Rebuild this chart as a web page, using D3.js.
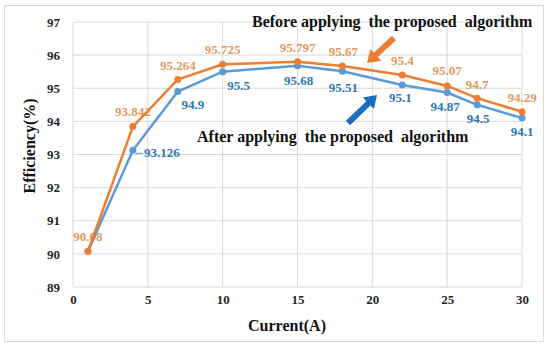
<!DOCTYPE html>
<html>
<head>
<meta charset="utf-8">
<script src="https://cdn.jsdelivr.net/npm/d3@7"></script>
<style>
  body { margin: 0; background: #fff; }
</style>
</head>
<body>
<div id="chart"></div>
<script>
// data
const current = [1, 4, 7, 10, 15, 18, 22, 25, 27, 30];
const before = [90.08, 93.842, 95.264, 95.725, 95.797, 95.67, 95.4, 95.07, 94.7, 94.29];
const after = [90.08, 93.126, 94.9, 95.5, 95.68, 95.51, 95.1, 94.87, 94.5, 94.1];
const xTicks = [0, 5, 10, 15, 20, 25, 30];
const yTicks = [89, 90, 91, 92, 93, 94, 95, 96, 97];

// label offsets (dx, dy) relative to each point
const beforeOff = [[0, -14], [0, -15], [0, -14], [0, -14], [0, -14], [1, -14], [0, -14], [0, -15], [0, -13], [0, -14]];
const afterOff = [[0, 0], [29, 3], [15, 13], [16, 14], [1, 15], [1, 17], [-2, 13], [-2, 14], [1, 14], [0, 14]];

const FONT = "'Liberation Serif', 'Times New Roman', serif";

const W = 550, H = 347;
const margin = {top: 22, right: 28, bottom: 60, left: 73},
    width = W - margin.left - margin.right,
    height = H - margin.top - margin.bottom;

const svg = d3.select("#chart")
  .append("svg")
    .attr("width", W)
    .attr("height", H);

// outer frame
svg.append("rect")
  .attr("x", 4.5).attr("y", 5.5)
  .attr("width", 539).attr("height", 336)
  .attr("fill", "none")
  .attr("stroke", "#d9d9d9");

const g = svg.append("g")
  .attr("transform", "translate(" + margin.left + "," + margin.top + ")");

const x = d3.scaleLinear().domain([0, 30]).range([0, width]);
const y = d3.scaleLinear().domain([89, 97]).range([height, 0]);

// grid
g.selectAll(".hgrid")
  .data(yTicks)
  .enter().append("line")
    .attr("x1", 0).attr("x2", width)
    .attr("y1", d => y(d)).attr("y2", d => y(d))
    .attr("stroke", "#d9d9d9");

g.selectAll(".vgrid")
  .data(xTicks)
  .enter().append("line")
    .attr("x1", d => x(d)).attr("x2", d => x(d))
    .attr("y1", 0).attr("y2", height)
    .attr("stroke", "#d9d9d9");

// axes (no domain / tick marks, only labels)
const yAxis = g.append("g")
  .call(d3.axisLeft(y).tickValues(yTicks).tickSize(0).tickPadding(13));
yAxis.select(".domain").remove();
yAxis.selectAll("text")
  .style("font-size", "13px")
  .style("font-family", FONT)
  .style("font-weight", "bold")
  .attr("fill", "#262626");

const xAxis = g.append("g")
  .attr("transform", "translate(0," + height + ")")
  .call(d3.axisBottom(x).tickValues(xTicks).tickSize(0).tickPadding(8));
xAxis.select(".domain").remove();
xAxis.selectAll("text")
  .style("font-size", "13px")
  .style("font-family", FONT)
  .style("font-weight", "bold")
  .attr("fill", "#262626");

// axis titles
svg.append("text")
  .attr("x", 287).attr("y", 331)
  .attr("text-anchor", "middle")
  .style("font-family", FONT).style("font-weight", "bold")
  .style("font-size", "16px")
  .attr("fill", "#111")
  .text("Current(A)");

svg.append("text")
  .attr("transform", "translate(35,146)rotate(-90)")
  .attr("text-anchor", "middle")
  .style("font-family", FONT).style("font-weight", "bold")
  .style("font-size", "16px")
  .attr("fill", "#111")
  .text("Efficiency(%)");

const series = [
  {vals: after, color: "#5b9bd5", label: "#2e78b0", off: afterOff},
  {vals: before, color: "#ed7d31", label: "#e09a5e", off: beforeOff}
];

// data labels (under the lines)
series.forEach((s, k) => {
  g.selectAll(null)
    .data(current.map((c, i) => [c, s.vals[i], s.off[i]]))
    .enter().append("text")
      .filter((d, i) => !(k === 0 && i === 0))
      .attr("x", d => x(d[0]) + d[2][0])
      .attr("y", d => y(d[1]) + d[2][1] + 4)
      .attr("text-anchor", "middle")
      .style("font-family", FONT).style("font-weight", "bold")
      .style("font-size", "13px")
      .attr("fill", s.label)
      .text(d => d[1]);
});

// lines
const line = d3.line()
  .x(d => x(d[0]))
  .y(d => y(d[1]));

series.forEach(s => {
  const pts = current.map((c, i) => [c, s.vals[i]]);
  g.append("path")
    .datum(pts)
    .attr("fill", "none")
    .attr("stroke", s.color)
    .attr("stroke-width", 2.5)
    .attr("d", line);
  g.selectAll(null)
    .data(pts)
    .enter().append("circle")
      .attr("cx", d => x(d[0]))
      .attr("cy", d => y(d[1]))
      .attr("r", 3.5)
      .attr("fill", s.color);
});

// leader line for 93.126
g.append("line")
  .attr("x1", x(4) + 3).attr("x2", x(4) + 10)
  .attr("y1", y(93.126) + 3).attr("y2", y(93.126) + 3)
  .attr("stroke", "#5b9bd5");

// annotations
svg.append("text")
  .attr("x", 252).attr("y", 27)
  .attr("xml:space", "preserve")
  .style("font-family", FONT).style("font-weight", "bold")
  .style("font-size", "16px")
  .style("white-space", "pre")
  .attr("fill", "#111")
  .text("Before applying  the proposed  algorithm");

svg.append("text")
  .attr("x", 197).attr("y", 142)
  .attr("xml:space", "preserve")
  .style("font-family", FONT).style("font-weight", "bold")
  .style("font-size", "16px")
  .style("white-space", "pre")
  .attr("fill", "#111")
  .text("After applying  the proposed  algorithm");

// block arrows
function arrow(x1, y1, x2, y2, color) {
  const ang = Math.atan2(y2 - y1, x2 - x1) * 180 / Math.PI;
  const len = Math.hypot(x2 - x1, y2 - y1);
  const hl = 12, sw = 3, hw = 8;
  svg.append("path")
    .attr("transform", "translate(" + x1 + "," + y1 + ")rotate(" + ang + ")")
    .attr("d", "M0," + (-sw) + "L" + (len - hl) + "," + (-sw) + "L" + (len - hl) + "," + (-hw) +
      "L" + len + ",0L" + (len - hl) + "," + hw + "L" + (len - hl) + "," + sw + "L0," + sw + "Z")
    .attr("fill", color);
}
arrow(394, 38, 367, 63, "#ed7d31");
arrow(348, 123, 377, 95, "#1a6ebd");
</script>
</body>
</html>
